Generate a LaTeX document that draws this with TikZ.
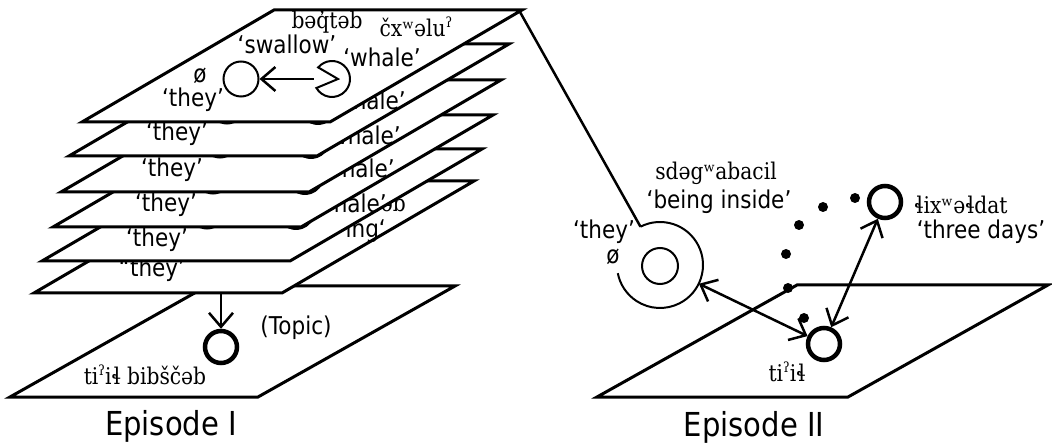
\documentclass[tikz,border=0pt]{standalone}
\usepackage{fontspec}
\setmainfont{DejaVu Sans}[FakeStretch=0.88]
\newfontfamily\ipaserif{DejaVu Serif}[FakeStretch=0.88]
\usetikzlibrary{arrows.meta,calc}
\newcommand\txtsz{\fontsize{24.5}{26}\selectfont}
\newcommand\epsz{\fontsize{33}{35}\selectfont}
\newcommand\ipasz{\ipaserif\fontsize{23}{25}\selectfont}
\newcommand\glot{\raisebox{0.75ex}{\fontsize{14}{14}\selectfont ʔ}}
\newcommand\drawplane[2]{\draw[plane] (#1,#2) -- ++(248,0) -- ++(192,-112) -- ++(-248,0) -- cycle;}
\newcommand\pacman[1]{\draw[line width=2pt] ($(#1)+(6,0)$) -- ($(#1)+(220:18)$) arc[start angle=220, end angle=510, radius=18] -- cycle;}
\tikzset{
  plane/.style={draw, fill=white, line width=3pt, line join=miter},
  lbl/.style={inner sep=0pt, font=\txtsz},
  ipa/.style={inner sep=0pt, font=\ipasz},
  epi/.style={inner sep=0pt, font=\epsz},
  thincirc/.style={circle, draw, line width=2pt, minimum size=35pt, inner sep=0pt},
  thickcirc/.style={circle, draw, line width=4.5pt, minimum size=32pt, inner sep=0pt},
  ghost/.style={circle, minimum size=36pt, inner sep=0pt},
  blackdot/.style={circle, fill, inner sep=0pt, minimum size=10pt},
  arr/.style={line width=2.5pt, -{Straight Barb[length=14pt,width=24pt]}},
  darr/.style={line width=2.5pt, {Straight Barb[length=14pt,width=24pt]}-{Straight Barb[length=14pt,width=24pt]}},
  link/.style={line width=2.5pt},
}
\begin{document}
\begin{tikzpicture}[x=1pt,y=-1pt]
\useasboundingbox (0,0) rectangle (1052,446);

% ---------------- Episode I: bottom plane
\draw[plane] (10,397) -- (258,397) -- (455,286) -- (207,286) -- cycle;
\node[thickcirc] (topic) at (221,347) {};
\node[lbl] (topiclbl) at (296,328) {(Topic)};
\node[ipa] (bib) at (145,375) {ti\glot iɬ bibščəb};

% plane 6
\drawplane{34}{293}
\node[lbl] (they6) at (152,270) {“they’};
\node[lbl,anchor=east] (ing6) at (386,231) {ing‘};
\node[ipa,anchor=east] (ab6) at (406,203) {əb};

% plane 5
\drawplane{42}{261}
\node[lbl] (they5) at (157,240) {‘they’};
\node[lbl] (o5) at (177,221) {ø};
\node[thincirc] (c5) at (207,211) {};
\node[ghost] (pm5) at (296,211) {}; \pacman{pm5}
\node[lbl] (wh5) at (348,203) {‘whale’};

% plane 4
\drawplane{53}{227}
\node[lbl] (they4) at (166,205) {‘they’};
\node[lbl] (o4) at (185,186) {ø};
\node[thincirc] (c4) at (213,176) {};
\node[ghost] (pm4) at (305,176) {}; \pacman{pm4}
\node[lbl] (wh4) at (356,168) {‘whale’};

% plane 3
\drawplane{61}{192}
\node[lbl] (they3) at (172,170) {‘they’};
\node[lbl] (o3) at (190,150) {ø};
\node[thincirc] (c3) at (220,140) {};
\node[ghost] (pm3) at (311,140) {}; \pacman{pm3}
\node[lbl] (wh3) at (362,135) {‘whale’};

% plane 2
\drawplane{69}{156}
\node[lbl] (they2) at (177,134) {‘they’};
\node[lbl] (o2) at (197,116) {ø};
\node[thincirc] (c2) at (227,106) {};
\node[ghost] (pm2) at (318,106) {}; \pacman{pm2}
\node[lbl] (wh2) at (367,100) {‘whale’};

% plane 1 (top)
\drawplane{82}{122}
\node[lbl] (o1) at (200,76) {ø};
\node[lbl] (they1) at (193,100) {‘they’};
\node[thincirc] (c1) at (241,79) {};
\node[ghost] (pm1) at (332,79) {}; \pacman{pm1}
\draw[arr] (pm1.west) -- (c1);
\node[lbl] (sw) at (287,44) {‘swallow’};
\node[ipa] (bq) at (327,22) {bəq̓təb};
\node[lbl] (wh1) at (382,57) {‘whale’};
\node[ipa] (cx) at (416,27) {čxʷəlu\glot};

% arrow to topic
\coordinate (p6b) at (221,293);
\draw[arr] (p6b) -- (topic);

\node[epi] (ep1) at (171,426) {Episode I};

% ---------------- Episode II
\draw[plane] (597,397) -- (848,397) -- (1048,285) -- (797,285) -- cycle;
\node[blackdot] (d1) at (855,198) {};
\node[blackdot] (d2) at (823,207) {};
\node[blackdot] (d3) at (799,225) {};
\node[blackdot] (d4) at (786,254) {};
\node[blackdot] (d5) at (788,288) {};
\node[blackdot] (d6) at (804,318) {};

\node[thincirc, minimum size=36pt] (in2) at (660,266) {};
\node[ghost, minimum size=86pt] (out2) at (660,265) {};
\coordinate (ringtop) at ($(out2)+(243:43)$);
\draw[line width=2pt] (ringtop) arc[start angle=243, end angle=529, radius=43];

\coordinate (p1tr) at (520,12);
\draw[link] (p1tr) -- (ringtop);

\node[thickcirc] (ti2) at (824,344) {};
\node[thickcirc] (lix) at (885,202) {};
\draw[darr] (out2) -- (ti2);
\draw[darr] (ti2) -- (lix);

\node[lbl] (theyII) at (604,232) {‘they’};
\node[lbl] (oII) at (613,257) {ø};
\node[ipa] (sdg) at (716,173) {sdəgʷabacil};
\node[lbl] (being) at (719,202) {‘being inside’};
\node[ipa] (lixl) at (961,205) {ɬixʷəɬdat};
\node[lbl] (three) at (981,232) {‘three days’};
\node[ipa] (til) at (787,372) {ti\glot iɬ};

\node[epi] (ep2) at (754,427) {Episode II};
\end{tikzpicture}
\end{document}
